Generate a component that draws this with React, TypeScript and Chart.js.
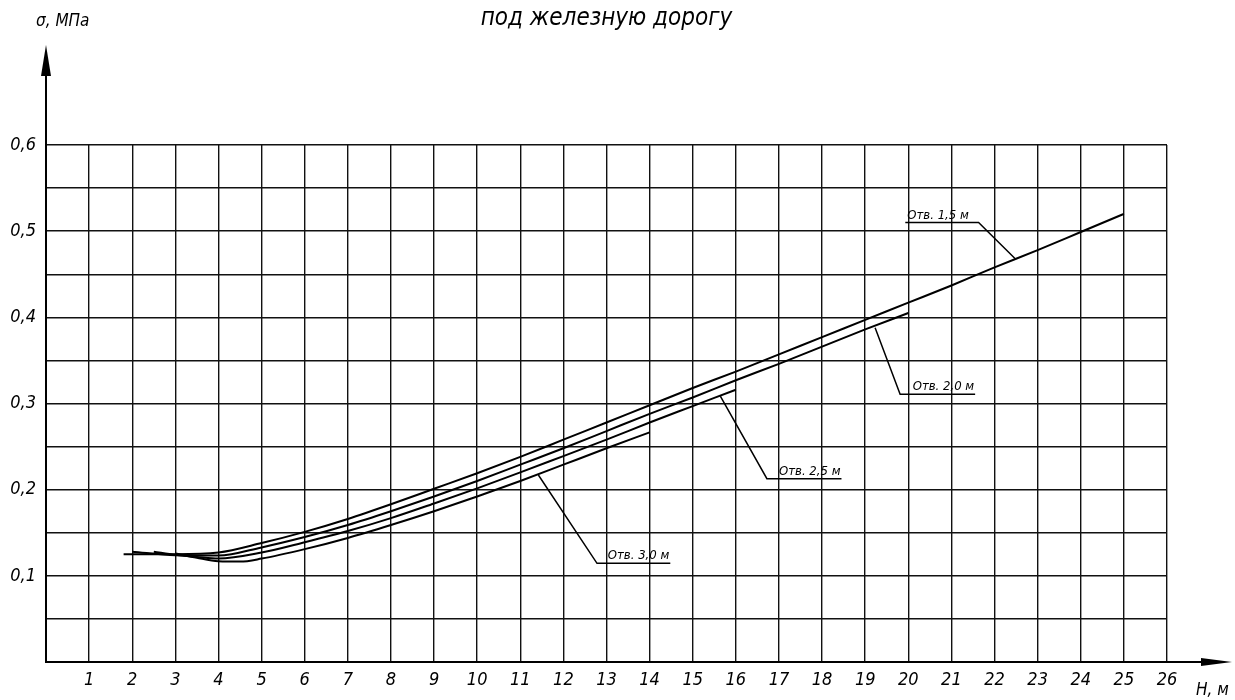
import React, { useEffect, useRef } from 'react';
import { Chart, registerables } from 'chart.js';

Chart.register(...registerables);

const FONT = "'DejaVu Sans Condensed', 'Liberation Sans Narrow', 'DejaVu Sans', sans-serif";

const titleText = 'под железную дорогу';
const yAxisLabel = 'σ, МПа';
const xAxisLabel = 'Н, м';

const seriesNames = ['Отв. 1,5 м', 'Отв. 2,0 м', 'Отв. 2,5 м', 'Отв. 3,0 м'];

// H, m  /  sigma, MPa
const h15 = [1.8, 3, 4, 5, 6, 7, 8, 9, 10, 11, 12, 13, 14, 15, 16, 17, 18, 19, 20, 21, 22, 23, 24, 25];
const s15 = [0.125, 0.125, 0.127, 0.138, 0.151, 0.166, 0.183, 0.201, 0.219, 0.238, 0.258, 0.278, 0.298, 0.318, 0.337, 0.357, 0.377, 0.397, 0.417, 0.437, 0.458, 0.478, 0.499, 0.52];

const h20 = [2, 3, 4, 5, 6, 7, 8, 9, 10, 11, 12, 13, 14, 15, 16, 17, 18, 19, 20];
const s20 = [0.128, 0.124, 0.1235, 0.133, 0.145, 0.159, 0.175, 0.192, 0.21, 0.229, 0.248, 0.268, 0.288, 0.307, 0.327, 0.346, 0.366, 0.386, 0.405];

const h25 = [2.5, 3, 3.5, 4, 5, 6, 7, 8, 9, 10, 11, 12, 13, 14, 15, 16];
const s25 = [0.128, 0.1245, 0.122, 0.12, 0.127, 0.139, 0.152, 0.167, 0.184, 0.2015, 0.22, 0.239, 0.258, 0.278, 0.297, 0.316];

const h30 = [3, 3.5, 4, 4.5, 5, 6, 7, 8, 9, 10, 11, 12, 13, 14];
const s30 = [0.126, 0.121, 0.117, 0.1165, 0.12, 0.131, 0.144, 0.159, 0.175, 0.192, 0.21, 0.229, 0.248, 0.2665];

// leader lines: point on curve -> shelf end that joins leader -> other shelf end
const leaderCurveH = [22.48, 19.23, 15.64, 11.42];
const leaderCurveS = [0.468, 0.388, 0.3086, 0.217];
const shelfS = [0.51, 0.3106, 0.2127, 0.1145];
const shelfH0 = [19.93, 19.81, 16.72, 12.78];
const shelfH1 = [21.63, 21.55, 18.45, 14.48];
const shelfJoinRight = [true, false, false, false];

const xTickMax = 26;
const yTickMax = 0.6;

function pts(xs: number[], ys: number[]) {
  return xs.map((x, i) => ({ x, y: ys[i] }));
}

export default function App() {
  const ref = useRef<HTMLCanvasElement | null>(null);

  useEffect(() => {
    if (!ref.current) return;

    const curveSets = [
      [h15, s15],
      [h20, s20],
      [h25, s25],
      [h30, s30],
    ].map(([xs, ys], i) => ({
      label: seriesNames[i],
      data: pts(xs as number[], ys as number[]),
      borderColor: '#000',
      borderWidth: 2,
      pointRadius: 0,
      fill: false,
      cubicInterpolationMode: 'monotone' as const,
    }));

    const leaderSets = seriesNames.map((name, i) => {
      const join = shelfJoinRight[i] ? shelfH1[i] : shelfH0[i];
      const other = shelfJoinRight[i] ? shelfH0[i] : shelfH1[i];
      return {
        label: name + ' выноска',
        data: [
          { x: leaderCurveH[i], y: leaderCurveS[i] },
          { x: join, y: shelfS[i] },
          { x: other, y: shelfS[i] },
        ],
        borderColor: '#000',
        borderWidth: 1.5,
        pointRadius: 0,
        fill: false,
        tension: 0,
      };
    });

    const decor = {
      id: 'decor',
      afterDraw(chart: any) {
        const { ctx } = chart;
        const xs = chart.scales.x;
        const ys = chart.scales.y;
        const x0 = xs.getPixelForValue(0);
        const y0 = ys.getPixelForValue(0);
        const yTop = ys.getPixelForValue(yTickMax);
        const xRight = xs.getPixelForValue(xTickMax);
        ctx.save();
        ctx.strokeStyle = '#000';
        ctx.fillStyle = '#000';
        ctx.lineWidth = 2;
        // y axis extension + arrow
        ctx.beginPath();
        ctx.moveTo(x0, yTop);
        ctx.lineTo(x0, 70);
        ctx.stroke();
        ctx.beginPath();
        ctx.moveTo(x0, 45);
        ctx.lineTo(x0 - 5, 76);
        ctx.lineTo(x0 + 5, 76);
        ctx.closePath();
        ctx.fill();
        // x axis extension + arrow
        ctx.beginPath();
        ctx.moveTo(xRight, y0);
        ctx.lineTo(1210, y0);
        ctx.stroke();
        ctx.beginPath();
        ctx.moveTo(1232, y0);
        ctx.lineTo(1201, y0 - 4);
        ctx.lineTo(1201, y0 + 4);
        ctx.closePath();
        ctx.fill();

        // axis labels
        ctx.font = `italic 17px ${FONT}`;
        ctx.textAlign = 'left';
        ctx.textBaseline = 'middle';
        ctx.fillText(yAxisLabel, 36, 22);
        ctx.fillText(xAxisLabel, 1196, 691);

        // curve labels on shelves
        ctx.font = `italic 13px ${FONT}`;
        ctx.textBaseline = 'alphabetic';
        seriesNames.forEach((name, i) => {
          const py = ys.getPixelForValue(shelfS[i]) - 4;
          if (shelfJoinRight[i]) {
            ctx.textAlign = 'left';
            ctx.fillText(name, xs.getPixelForValue(shelfH0[i]) + 2, py);
          } else {
            ctx.textAlign = 'right';
            ctx.fillText(name, xs.getPixelForValue(shelfH1[i]) - 1, py);
          }
        });
        ctx.restore();
      },
    };

    const chart = new Chart(ref.current, {
      type: 'line',
      data: { datasets: [...curveSets, ...leaderSets] as any },
      options: {
        responsive: false,
        animation: false,
        events: [],
        layout: { padding: { left: 0, right: 68, top: 0, bottom: 0 } },
        plugins: {
          legend: { display: false },
          tooltip: { enabled: false },
          title: {
            display: true,
            text: titleText,
            fullSize: false,
            color: '#000',
            font: { family: FONT, size: 24, style: 'italic', weight: 'normal' },
            padding: { top: 4, bottom: 112.2 },
          },
        },
        scales: {
          x: {
            type: 'linear',
            min: 0,
            max: xTickMax,
            afterFit: (s: any) => {
              s.height = 38;
            },
            ticks: {
              stepSize: 1,
              color: '#000',
              padding: 8,
              maxRotation: 0,
              autoSkip: false,
              font: { family: FONT, size: 18, style: 'italic' },
              callback: (v: any) => (Number(v) === 0 ? '' : String(v)),
            },
            grid: { color: '#111', lineWidth: 1.4, drawTicks: false },
            border: { display: true, color: '#000', width: 2 },
          },
          y: {
            type: 'linear',
            min: 0,
            max: yTickMax,
            afterFit: (s: any) => {
              s.width = 46;
            },
            ticks: {
              stepSize: 0.05,
              color: '#000',
              padding: 10,
              autoSkip: false,
              font: { family: FONT, size: 18, style: 'italic' },
              callback: (v: any) => {
                const n = Math.round(Number(v) * 100);
                if (n === 0 || n % 10 !== 0) return '';
                return (n / 100).toFixed(1).replace('.', ',');
              },
            },
            grid: { color: '#111', lineWidth: 1.4, drawTicks: false },
            border: { display: true, color: '#000', width: 2 },
          },
        },
      },
      plugins: [decor],
    });

    return () => chart.destroy();
  }, []);

  return (
    <div style={{ position: 'absolute', left: 0, top: 0, width: 1235, height: 700, background: '#fff' }}>
      <canvas ref={ref} width={1235} height={700} style={{ display: 'block' }} />
    </div>
  );
}
